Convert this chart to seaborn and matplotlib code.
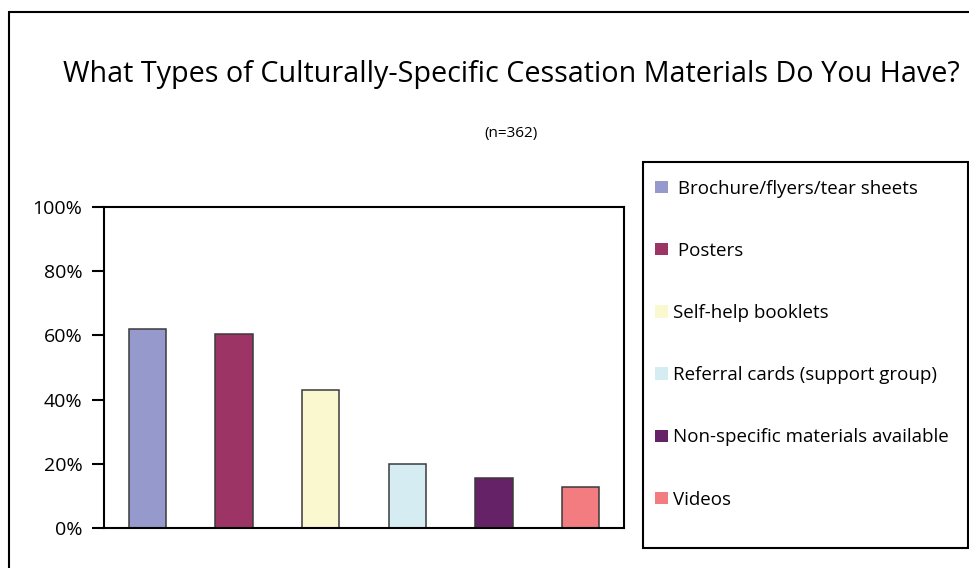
import matplotlib
matplotlib.use("Agg")
import matplotlib.pyplot as plt
from matplotlib.patches import Patch, Rectangle
from matplotlib.ticker import PercentFormatter
import seaborn as sns
import pandas as pd

categories = [" Brochure/flyers/tear sheets", " Posters", "Self-help booklets",
              "Referral cards (support group)", "Non-specific materials available", "Videos"]
values = [61.9, 60.5, 43.0, 19.9, 15.6, 12.8]
colors = ["#9599CB", "#9C3566", "#FAF8CE", "#D5EDF2", "#662266", "#F27C80"]
yticks = [0, 20, 40, 60, 80, 100]

df = pd.DataFrame({"material": categories, "pct": values})

sns.set_style("white")
plt.rcParams["font.family"] = ["Open Sans", "DejaVu Sans"]
plt.rcParams["text.color"] = "black"

fig = plt.figure(figsize=(9.7, 5.68), dpi=100)
ax = fig.add_axes([0.1072, 0.0704, 0.5361, 0.5651])

sns.barplot(data=df, x="material", y="pct", hue="material", palette=colors,
            saturation=1, width=0.43, edgecolor="#3a3a3a", linewidth=1.1,
            legend=False, ax=ax)

ax.set_ylim(0, 100)
ax.set_xlim(-0.5, len(categories) - 0.5)
ax.set_yticks(yticks)
ax.yaxis.set_major_formatter(PercentFormatter(decimals=0))
ax.set_xticks([])
ax.set_xlabel("")
ax.set_ylabel("")
for s in ax.spines.values():
    s.set_linewidth(1.5)
    s.set_color("black")
ax.tick_params(axis="y", left=True, direction="out", length=8.5, width=1.5,
               pad=7, labelsize=14, colors="black")

# outer frame
fig.patches.append(Rectangle((9 / 970, -0.1), 1.2, 1 - 12 / 568 + 0.1,
                             transform=fig.transFigure, fill=False,
                             edgecolor="black", linewidth=1.5))
# legend box
fig.patches.append(Rectangle((643 / 970, 1 - 548 / 568), (968 - 643) / 970, (548 - 162) / 568,
                             transform=fig.transFigure, fill=False,
                             edgecolor="black", linewidth=1.5))

handles = [Patch(facecolor=c, edgecolor="none") for c in colors]
fig.legend(handles, categories, loc="upper left", bbox_to_anchor=(648 / 970, 1 - 172 / 568),
           frameon=False, fontsize=13.5, handlelength=0.65, handleheight=0.65,
           handletextpad=0.3, labelspacing=2.36, borderaxespad=0)

fig.text(0.527, 0.868, "What Types of Culturally-Specific Cessation Materials Do You Have?",
         ha="center", va="center", fontsize=20.7)
fig.text(0.527, 1 - 133 / 568, "(n=362)", ha="center", va="center", fontsize=11)

fig.savefig("out.png", dpi=100)
